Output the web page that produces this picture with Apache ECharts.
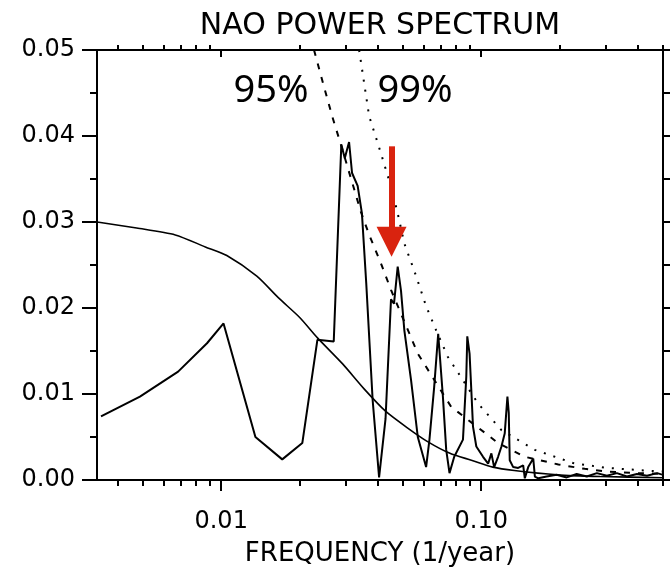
<!DOCTYPE html>
<html><head><meta charset="utf-8">
<script src="https://cdn.jsdelivr.net/npm/echarts@6/dist/echarts.min.js"></script>
<style>html,body{margin:0;padding:0;background:#fff}#c{width:670px;height:572px}</style>
</head><body><div id="c"></div>
<script>
// ---- data ----
const spectrumFreq = [0.00345, 0.00487, 0.00683, 0.00882, 0.01021, 0.01354, 0.01717, 0.02051, 0.02344, 0.02709,
  0.02897, 0.02987, 0.03103, 0.03186, 0.03348, 0.03477, 0.03612, 0.03823, 0.04048, 0.04285,
  0.04498, 0.04619, 0.04773, 0.04915, 0.05062, 0.05372, 0.05702, 0.06138, 0.06322, 0.06592,
  0.06831, 0.07122, 0.07334, 0.07551, 0.07873, 0.08506, 0.0876, 0.08838, 0.09019, 0.09158,
  0.09297, 0.09574, 0.1016, 0.1063, 0.1094, 0.1121, 0.1161, 0.1196, 0.1231, 0.1261,
  0.1276, 0.1287, 0.1327, 0.1387, 0.1450, 0.1471, 0.1516, 0.1585, 0.1608, 0.1657,
  0.1784, 0.1950, 0.2131, 0.2329, 0.2546, 0.2783, 0.3041, 0.3324, 0.3633, 0.3971,
  0.4341, 0.4745, 0.5];
const spectrumPower = [0.0074, 0.0097, 0.0126, 0.0159, 0.0182, 0.0050, 0.0024, 0.0043, 0.0163, 0.0161,
  0.0390, 0.0374, 0.0393, 0.0357, 0.0342, 0.0310, 0.0229, 0.0093, 0.0003, 0.0071,
  0.0210, 0.0205, 0.0248, 0.0220, 0.0174, 0.0116, 0.0050, 0.0015, 0.0047, 0.0108,
  0.0170, 0.0097, 0.0035, 0.0008, 0.0027, 0.0047, 0.0120, 0.0167, 0.0147, 0.0105,
  0.0062, 0.0039, 0.0027, 0.0019, 0.0031, 0.0015, 0.0027, 0.0039, 0.0054, 0.0097,
  0.0078, 0.0023, 0.0015, 0.0014, 0.0017, 0.0002, 0.0015, 0.0025, 0.0004, 0.0002,
  0.0004, 0.0006, 0.0003, 0.0007, 0.0004, 0.0008, 0.0005, 0.0008, 0.0004, 0.0007,
  0.0005, 0.0008, 0.0006];

const redNoiseFreq = [0.003335, 0.00473, 0.00666, 0.00869, 0.01051, 0.01371, 0.01658, 0.02004, 0.02351, 0.02931,
  0.03544, 0.04285, 0.05183, 0.06266, 0.07578, 0.09162, 0.1108, 0.134, 0.1959, 0.2864, 0.5];
const redNoisePower = [0.0300, 0.0293, 0.0285, 0.0271, 0.0261, 0.0237, 0.0212, 0.0189, 0.0165, 0.0135,
  0.0106, 0.0080, 0.0061, 0.0044, 0.0031, 0.0023, 0.0015, 0.0011, 0.0006, 0.0004, 0.00026];

const sig95Freq = [0.02275, 0.02486, 0.02678, 0.02927, 0.03443, 0.03708, 0.04114, 0.04498, 0.05702, 0.07665,
  0.1161, 0.1471, 0.198, 0.25, 0.3, 0.4, 0.5];
const sig95Power = [0.0500, 0.0457, 0.0422, 0.0384, 0.0312, 0.0285, 0.0252, 0.0221, 0.0147, 0.0085,
  0.0043, 0.0027, 0.0018, 0.0013, 0.0010, 0.0008, 0.0007];

const sig99Freq = [0.03392, 0.03707, 0.04114, 0.04498, 0.04773, 0.05062, 0.0562, 0.0614, 0.0671, 0.07445,
  0.0972, 0.1196, 0.1608, 0.229, 0.308, 0.48, 0.5];
const sig99Power = [0.0500, 0.0423, 0.0380, 0.0341, 0.0310, 0.0275, 0.0237, 0.0202, 0.0174, 0.0143,
  0.0089, 0.0058, 0.0035, 0.0019, 0.0014, 0.0010, 0.0010];

const xMajorTicks = [0.01, 0.1];
const xMinorTicks = [0.004, 0.005, 0.006, 0.007, 0.008, 0.009, 0.02, 0.03, 0.04, 0.05, 0.06, 0.07, 0.08, 0.09, 0.2, 0.3, 0.4, 0.5];
const xMin = 0.00333, xMax = 0.5;
const yMin = 0, yMax = 0.05;

// arrow annotation (frequency, power at shaft top, power at head centre)
const arrowFreq = 0.0452, arrowTop = 0.0388, arrowHead = 0.0277;

// ---- chart ----
const zip = (xs, ys) => xs.map((x, i) => [x, ys[i]]);
const FONT = 'DejaVu Sans';
const BLACK = '#000';
const chart = echarts.init(document.getElementById('c'), null, {renderer: 'canvas'});

function xAxisBase(extra) {
  return Object.assign({
    type: 'log', logBase: 10, min: xMin, max: xMax, gridIndex: 0,
    splitLine: {show: false}, minorTick: {show: false}, minorSplitLine: {show: false},
    axisLine: {show: false, onZero: false},
    axisLabel: {show: false},
    axisTick: {show: false}
  }, extra);
}
function yAxisBase(extra) {
  return Object.assign({
    type: 'value', min: yMin, max: yMax, gridIndex: 0, offset: 0,
    splitLine: {show: false},
    axisLine: {show: false, onZero: false},
    axisLabel: {show: false},
    axisTick: {show: false}
  }, extra);
}

const option = {
  animation: false,
  backgroundColor: '#fff',
  grid: {left: 97, right: 7, top: 50, bottom: 92, containLabel: false, outerBoundsMode: 'none'},
  graphic: [
    {type: 'text', x: 380, y: 26, style: {text: 'NAO POWER SPECTRUM', fill: BLACK, font: '30px "DejaVu Sans"', textAlign: 'center', textVerticalAlign: 'middle'}},
    {type: 'text', x: 271, y: 91, style: {text: '95%', fill: BLACK, font: '38px "Noto Sans"', textAlign: 'center', textVerticalAlign: 'middle'}},
    {type: 'text', x: 415, y: 91, style: {text: '99%', fill: BLACK, font: '38px "Noto Sans"', textAlign: 'center', textVerticalAlign: 'middle'}}
  ],
  xAxis: [
    xAxisBase({
      position: 'bottom', offset: 0,
      name: 'FREQUENCY (1/year)', nameLocation: 'middle', nameGap: 61,
      nameTextStyle: {fontFamily: FONT, fontSize: 26, color: BLACK},
      axisLine: {show: true, onZero: false, lineStyle: {color: BLACK, width: 2}},
      axisTick: {show: true, inside: false, length: 11, customValues: xMajorTicks, lineStyle: {color: BLACK, width: 2}},
      axisLabel: {show: true, customValues: xMajorTicks, margin: 30, fontFamily: FONT, fontSize: 24, color: BLACK,
        formatter: v => Number(v).toFixed(2)}
    }),
    xAxisBase({
      position: 'bottom', offset: 0,
      axisTick: {show: true, inside: false, length: 6, customValues: xMinorTicks, lineStyle: {color: BLACK, width: 2}}
    }),
    xAxisBase({
      position: 'top', offset: 0,
      axisLine: {show: true, onZero: false, lineStyle: {color: BLACK, width: 2}},
      axisTick: {show: true, inside: false, length: 5, customValues: xMinorTicks, lineStyle: {color: BLACK, width: 2}}
    }),
    xAxisBase({
      position: 'top', offset: 0,
      axisTick: {show: true, inside: true, length: 7, customValues: xMajorTicks, lineStyle: {color: BLACK, width: 2}}
    })
  ],
  yAxis: [
    yAxisBase({
      position: 'left', interval: 0.01,
      axisLine: {show: true, onZero: false, lineStyle: {color: BLACK, width: 2}},
      axisTick: {show: true, inside: false, length: 15, lineStyle: {color: BLACK, width: 2}},
      axisLabel: {show: true, margin: 22, fontFamily: FONT, fontSize: 24, color: BLACK,
        formatter: v => Number(v).toFixed(2)}
    }),
    yAxisBase({
      position: 'left', interval: 0.005,
      axisTick: {show: true, inside: false, length: 7, lineStyle: {color: BLACK, width: 2}}
    }),
    yAxisBase({
      position: 'right', interval: 0.005,
      axisLine: {show: true, onZero: false, lineStyle: {color: BLACK, width: 2}},
      axisTick: {show: true, inside: false, length: 8, lineStyle: {color: BLACK, width: 2}}
    })
  ],
  series: [
    {
      name: 'red noise', type: 'line', xAxisIndex: 0, yAxisIndex: 0,
      data: zip(redNoiseFreq, redNoisePower), showSymbol: false, symbol: 'none', smooth: 0.25,
      lineStyle: {color: BLACK, width: 1.6}, silent: true, z: 3
    },
    {
      name: '95%', type: 'line', xAxisIndex: 0, yAxisIndex: 0,
      data: zip(sig95Freq, sig95Power), showSymbol: false, symbol: 'none',
      lineStyle: {color: BLACK, width: 2, type: [6, 8]}, silent: true, z: 3
    },
    {
      name: '99%', type: 'line', xAxisIndex: 0, yAxisIndex: 0,
      data: zip(sig99Freq, sig99Power), showSymbol: false, symbol: 'none',
      lineStyle: {color: BLACK, width: 2, type: [2, 8]}, silent: true, z: 3
    },
    {
      name: 'spectrum', type: 'line', xAxisIndex: 0, yAxisIndex: 0,
      data: zip(spectrumFreq, spectrumPower), showSymbol: false, symbol: 'none',
      lineStyle: {color: BLACK, width: 2}, silent: true, z: 4,
      markLine: {
        silent: true, animation: false,
        symbol: ['none', 'triangle'], symbolSize: [30, 30],
        label: {show: false},
        emphasis: {disabled: true},
        lineStyle: {color: '#d9230f', width: 6, type: 'solid'},
        itemStyle: {color: '#d9230f'},
        data: [[{coord: [arrowFreq, arrowTop]}, {coord: [arrowFreq, arrowHead]}]]
      }
    }
  ]
};
chart.setOption(option);
</script>
</body></html>
